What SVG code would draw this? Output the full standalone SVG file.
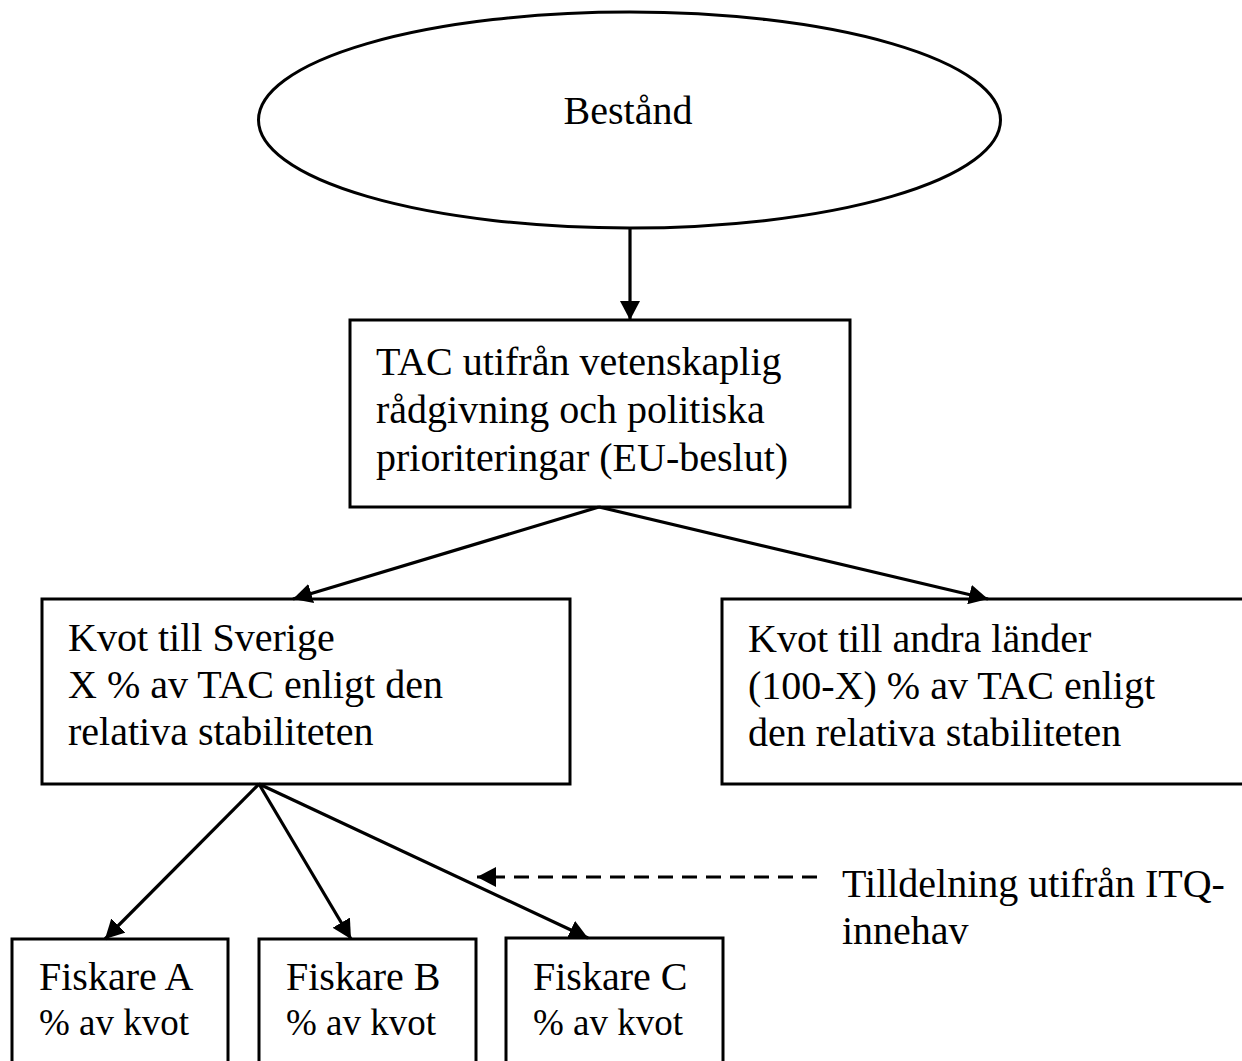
<svg xmlns="http://www.w3.org/2000/svg" width="1242" height="1061" viewBox="0 0 1242 1061">
<style>
.shape{fill:#fff;stroke:#000;stroke-width:3}
.t{font-family:"Liberation Serif","Times New Roman",serif;font-size:40px;fill:#000}
.s{font-size:37px}
.c{fill:none;stroke:#000;stroke-width:3.2}
.d{stroke-dasharray:15 9}
</style>
<defs>
<marker id="ah" markerUnits="userSpaceOnUse" markerWidth="20" markerHeight="20" refX="19" refY="10" orient="auto">
<path d="M0,0 L19,10 L0,20 z" fill="#000"/>
</marker>
</defs>
<rect width="1242" height="1061" fill="#fff"/>
<g id="bestand">
<ellipse class="shape" cx="629.5" cy="120" rx="371" ry="108"/>
<text class="t" x="628" y="124" text-anchor="middle">Bestånd</text>
</g>
<g id="tac">
<rect class="shape" x="350" y="320" width="500" height="187"/>
<text class="t" x="376" y="375">TAC utifrån vetenskaplig</text>
<text class="t" x="376" y="423">rådgivning och politiska</text>
<text class="t" x="376" y="471">prioriteringar (EU-beslut)</text>
</g>
<g id="sverige">
<rect class="shape" x="42" y="599" width="528" height="185"/>
<text class="t" x="68" y="651">Kvot till Sverige</text>
<text class="t" x="68" y="698">X % av TAC enligt den</text>
<text class="t" x="68" y="745">relativa stabiliteten</text>
</g>
<g id="andra">
<rect class="shape" x="722" y="599" width="540" height="185"/>
<text class="t" x="748" y="652">Kvot till andra länder</text>
<text class="t" x="748" y="699">(100-X) % av TAC enligt</text>
<text class="t" x="748" y="746">den relativa stabiliteten</text>
</g>
<g id="fiskareA">
<rect class="shape" x="12" y="939" width="216" height="140"/>
<text class="t" x="39" y="990">Fiskare A</text>
<text class="t s" x="39" y="1035">% av kvot</text>
</g>
<g id="fiskareB">
<rect class="shape" x="259" y="939" width="217" height="140"/>
<text class="t" x="286" y="990">Fiskare B</text>
<text class="t s" x="286" y="1035">% av kvot</text>
</g>
<g id="fiskareC">
<rect class="shape" x="506" y="938" width="217" height="141"/>
<text class="t" x="533" y="990">Fiskare C</text>
<text class="t s" x="533" y="1035">% av kvot</text>
</g>
<g id="tilldelning">
<text class="t" x="842" y="897">Tilldelning utifrån ITQ-</text>
<text class="t" x="842" y="944">innehav</text>
</g>
<g id="connectors">
<line class="c" x1="630" y1="228" x2="630" y2="320" marker-end="url(#ah)"/>
<line class="c" x1="599" y1="507" x2="293" y2="599" marker-end="url(#ah)"/>
<line class="c" x1="599" y1="507" x2="988" y2="599" marker-end="url(#ah)"/>
<line class="c" x1="259" y1="784" x2="105" y2="939" marker-end="url(#ah)"/>
<line class="c" x1="259" y1="784" x2="351" y2="939" marker-end="url(#ah)"/>
<line class="c" x1="259" y1="784" x2="588" y2="938" marker-end="url(#ah)"/>
<line class="c d" x1="817" y1="877" x2="477" y2="877" marker-end="url(#ah)"/>
</g>
</svg>
